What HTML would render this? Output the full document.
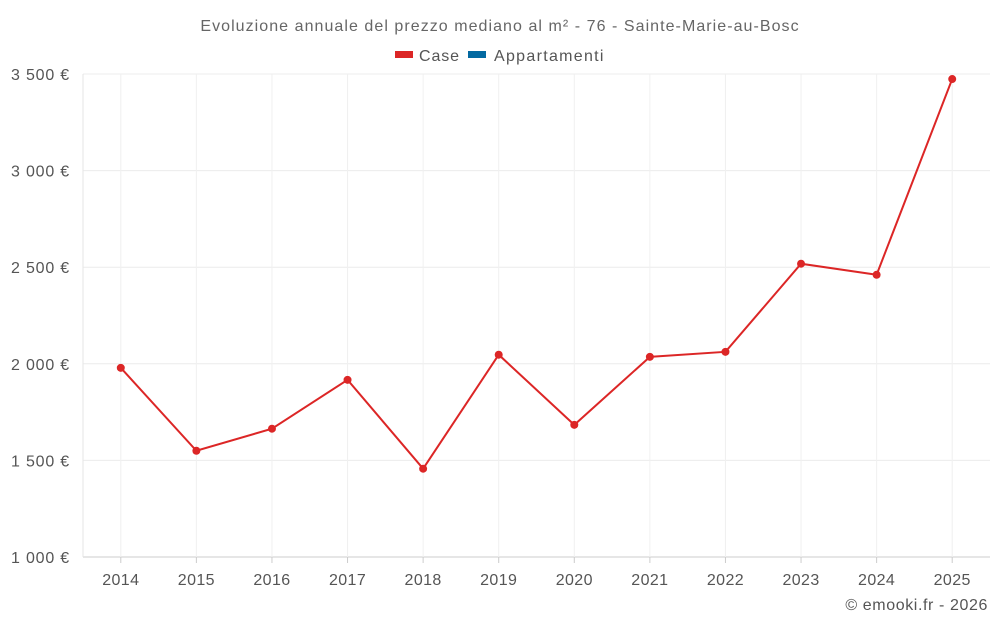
<!DOCTYPE html>
<html><head><meta charset="utf-8"><style>
body{margin:0;background:#fff;font-family:"Liberation Sans",sans-serif}
</style></head><body>
<svg id="c" width="1000" height="625" xmlns="http://www.w3.org/2000/svg">
<text x="500" y="31" text-anchor="middle" font-size="16" letter-spacing="1.05" fill="#666">Evoluzione annuale del prezzo mediano al m² - 76 - Sainte-Marie-au-Bosc</text>
<g><rect x="395" y="51" width="18" height="7" fill="#dc2626"/><text x="419" y="61" font-size="16" letter-spacing="0.9" fill="#555">Case</text></g>
<g><rect x="468" y="51" width="18" height="7" fill="#0369a1"/><text x="494" y="61" font-size="16" letter-spacing="1.3" fill="#555">Appartamenti</text></g>
<g id="grid"></g><g id="axes"></g><g id="series"></g>
<text x="988" y="610" text-anchor="end" font-size="16" letter-spacing="0.6" fill="#555">© emooki.fr - 2026</text>
</svg>
<script>
const years=["2014","2015","2016","2017","2018","2019","2020","2021","2022","2023","2024","2025"];
const caseValues=[1979,1550,1664,1917,1457,2047,1684,2036,2062,2518,2461,3474];
const yTicks=[1000,1500,2000,2500,3000,3500];
const yTickLabels=["1 000 €","1 500 €","2 000 €","2 500 €","3 000 €","3 500 €"];
const NS="http://www.w3.org/2000/svg";
const L=83,R=990,T=74,B=557,ymin=1000,ymax=3500;
const y=v=>B-(v-ymin)/(ymax-ymin)*(B-T);
const bw=(R-L)/years.length;
const x=i=>L+bw*(i+0.5);
function mk(t,a,p){const e=document.createElementNS(NS,t);for(const k in a)e.setAttribute(k,a[k]);p.appendChild(e);return e;}
const g=document.getElementById('grid'),ax=document.getElementById('axes'),s=document.getElementById('series');
yTicks.forEach((v,i)=>{
 const l=mk('line',{x1:L,x2:R,y1:y(v),y2:y(v),stroke:i==0?'#ccc':'#ececec'},g);
 
 
 const t=mk('text',{x:70,y:y(v)+6,'text-anchor':'end','font-size':16,'letter-spacing':0.8,fill:'#555'},ax);
 t.textContent=yTickLabels[i];
 
 
});
mk('line',{x1:L,x2:L,y1:T,y2:B,stroke:'#e5e5e5'},g);
years.forEach((yr,i)=>{
 const l=mk('line',{x1:x(i),x2:x(i),y1:T,y2:B,stroke:'#f0f0f0'},g);
 
 
 mk('line',{x1:x(i),x2:x(i),y1:B,y2:B+6,stroke:'#ccc'},ax);
 const t=mk('text',{x:x(i),y:585,'text-anchor':'middle','font-size':16,'letter-spacing':0.4,fill:'#555'},ax);
 t.textContent=yr;
 
 
});
const p=mk('polyline',{points:caseValues.map((v,i)=>x(i)+','+y(v)).join(' '),fill:'none',stroke:'#dc2626','stroke-width':2},s);


caseValues.forEach((v,i)=>{
 const c=mk('circle',{cx:x(i),cy:y(v),r:4,fill:'#dc2626'},s);
 
 
});
</script>
</body></html>
